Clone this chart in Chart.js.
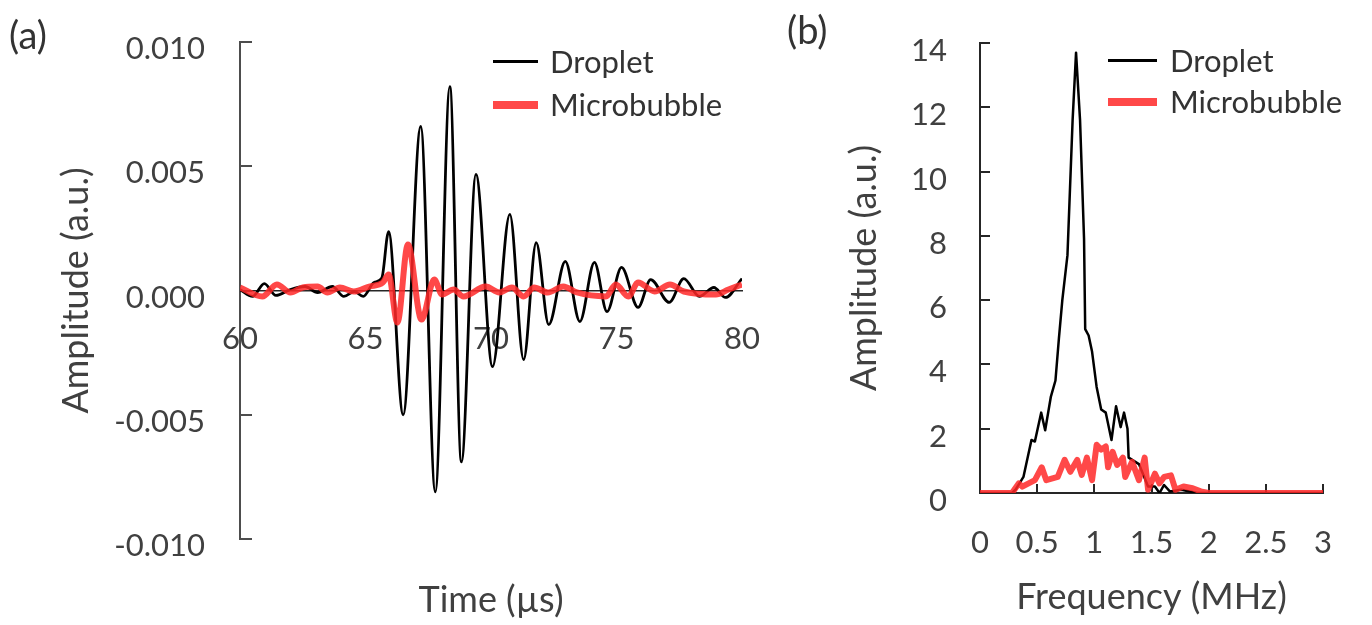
<!DOCTYPE html>
<html>
<head>
<meta charset="utf-8">
<script src="https://cdn.jsdelivr.net/npm/chart.js@4.4.1/dist/chart.umd.min.js"></script>
<style>
  body { margin: 0; background: #fff; }
  #page { position: relative; width: 1372px; height: 625px; overflow: hidden; font-family: Lato, sans-serif; color: #333; }
  canvas { position: absolute; top: 0; }
  .panel { position: absolute; font-size: 38px; line-height: 38px; }
  .legend { position: absolute; font-size: 31px; }
  .legend .row { display: flex; align-items: center; height: 31px; line-height: 31px; white-space: nowrap; }
</style>
</head>
<body>
<div id="page">
  <canvas id="timeChart" width="790" height="625" style="left:0"></canvas>
  <canvas id="freqChart" width="582" height="625" style="left:790px"></canvas>
  <div class="panel" style="left:9px;top:15px">(a)</div>
  <div class="panel" style="left:787px;top:10px">(b)</div>
  <div class="legend" id="legendA" style="left:493px;top:46px"></div>
  <div class="legend" id="legendB" style="left:1108px;top:45px"></div>
</div>
<script>
const seriesNames = ['Droplet', 'Microbubble'];

// (a) time signal, amplitude in a.u.
const dropletTime = [60.00, 60.50, 60.97, 61.43, 62.01, 62.59, 63.09, 63.68, 64.14, 64.56, 64.91, 65.34, 65.65, 65.92,
  66.50, 67.20, 67.78, 68.36, 68.82, 69.40, 70.06, 70.75, 71.30, 71.80, 72.30, 72.96, 73.54, 74.12, 74.62, 75.20,
  75.86, 76.36, 77.10, 77.68, 78.30, 78.88, 79.34, 80.00];
const dropletAmp = [0.00004, -0.00024, 0.00028, -0.00020, 0.00004, 0.00016, -0.00008, 0.00016, -0.00024, -0.00004, -0.00024, 0.00032, 0.0005, 0.00237,
  -0.0050, 0.0066, -0.0081, 0.0082, -0.0069, 0.00467, -0.00306, 0.00306, -0.00278, 0.00193, -0.00137, 0.00117, -0.00125, 0.00113, -0.00085, 0.00093,
  -0.00068, 0.00044, -0.00048, 0.00048, -0.00024, 0.00012, -0.00028, 0.00048];

const bubbleTime = [60.00, 60.89, 61.47, 62.01, 62.50, 63.09, 63.48, 63.98, 64.53, 65.15, 65.69, 65.92, 66.27, 66.69, 67.23,
  67.74, 68.05, 68.51, 68.90, 69.79, 70.33, 70.83, 71.30, 71.72, 72.26, 72.88, 73.42, 74.58, 74.97, 75.47, 75.86,
  76.52, 77.13, 77.68, 78.96, 79.46, 80.00];
const bubbleAmp = [0.00012, -0.00024, 0.00024, -0.00008, 0.00012, 0.00016, -0.00008, 0.00012, -0.00004, 0.00016, 0.00032, 0.00064, -0.00129, 0.00185, -0.00117,
  0.00044, -0.00016, 0.00004, -0.00024, 0.00016, -0.00008, 0.00012, -0.00024, 0.00012, -0.00008, 0.00016, -0.00008, -0.00024, 0.00024, -0.00024, 0.00032,
  -0.00004, 0.00024, -0.00004, -0.00016, 0.00004, 0.00024];

// (b) spectrum
const dropletFreq = [0, 0.28, 0.31, 0.38, 0.45, 0.48, 0.535, 0.57, 0.62, 0.66, 0.69, 0.72, 0.765, 0.81, 0.84, 0.875,
  0.91, 0.92, 0.95, 0.98, 1.02, 1.06, 1.10, 1.15, 1.19, 1.23, 1.26, 1.29, 1.30, 1.39, 1.47, 1.53, 1.57, 1.61, 1.66,
  1.76, 1.90, 3.00];
const dropletSpec = [0, 0, 0.1, 0.5, 1.65, 1.6, 2.5, 1.95, 3.0, 3.5, 4.8, 6.0, 7.4, 11.6, 13.7, 11.6,
  7.9, 5.1, 4.9, 4.4, 3.3, 2.6, 2.5, 1.65, 2.7, 2.05, 2.5, 2.0, 1.1, 0.9, 0.2, 0.2, 0, 0.25, 0.05,
  0.1, 0, 0];

const bubbleFreq = [0, 0.28, 0.34, 0.37, 0.48, 0.54, 0.58, 0.68, 0.74, 0.79, 0.85, 0.89, 0.935, 0.98, 1.02, 1.06,
  1.10, 1.12, 1.16, 1.20, 1.25, 1.27, 1.33, 1.39, 1.44, 1.47, 1.53, 1.57, 1.61, 1.67, 1.71, 1.78, 1.86, 1.93, 2.00, 3.00];
const bubbleSpec = [0, 0, 0.3, 0.2, 0.4, 0.8, 0.4, 0.5, 1.03, 0.66, 1.03, 0.56, 1.1, 0.4, 1.5, 1.35,
  1.45, 0.8, 1.28, 0.87, 1.1, 0.5, 0.97, 0.4, 1.1, 0.1, 0.6, 0.3, 0.5, 0.55, 0.1, 0.2, 0.15, 0.05, 0, 0];

// tick labels
const timeTicks = [60, 65, 70, 75, 80];
const ampTicks = [-0.010, -0.005, 0, 0.005, 0.010];
const freqTicks = [0, 0.5, 1, 1.5, 2, 2.5, 3];
const specTicks = [0, 2, 4, 6, 8, 10, 12, 14];

const black = '#000000';
const red = 'rgba(255, 40, 40, 0.85)';
const axisColor = '#4d4d4d';
const titleFont = {size: 36};

Chart.defaults.font.family = 'Lato';
Chart.defaults.font.size = 31;
Chart.defaults.color = '#404040';

const pts = (xs, ys) => xs.map((x, i) => ({x: x, y: ys[i]}));
const setTicks = list => scale => { scale.ticks = list.map(v => ({value: v})); };
// fixed axis width, and no extra room asked above/below the plot
const fixWidth = w => s => { s.width = w; s.paddingTop = 0; s.paddingBottom = 0; };

const timeChart = new Chart(document.getElementById('timeChart'), {
    type: 'line',
    data: {
        datasets: [
            {label: seriesNames[0], data: pts(dropletTime, dropletAmp), borderColor: black, borderWidth: 2.8,
             cubicInterpolationMode: 'monotone', pointRadius: 0, order: 1},
            {label: seriesNames[1], data: pts(bubbleTime, bubbleAmp), borderColor: red, borderWidth: 6,
             cubicInterpolationMode: 'monotone', pointRadius: 0, order: 0}
        ]
    },
    options: {
        responsive: false,
        animation: false,
        layout: {padding: {left: 0, top: 42, right: 33, bottom: 0}},
        plugins: {legend: {display: false}, tooltip: {enabled: false}},
        scales: {
            x: {
                type: 'linear', position: {y: 0}, min: 60, max: 80, z: 1,
                afterBuildTicks: setTicks(timeTicks),
                border: {color: '#262626', width: 1.5},
                grid: {display: false, drawTicks: false},
                ticks: {padding: 30, showLabelBackdrop: true, backdropColor: '#ffffff',
                        backdropPadding: {top: 0, bottom: 0, left: 2, right: 2}}
            },
            x2: {
                type: 'linear', position: 'bottom', min: 60, max: 80,
                afterFit: s => { s.height = 86; },
                border: {display: false},
                grid: {display: false, drawTicks: false},
                ticks: {display: false},
                title: {display: true, text: 'Time (µs)', font: titleFont, padding: {top: 0, bottom: 3}}
            },
            y: {
                min: -0.01, max: 0.01,
                afterBuildTicks: setTicks(ampTicks),
                afterFit: fixWidth(240),
                border: {color: axisColor, width: 2},
                grid: {drawOnChartArea: false, tickLength: -12, color: axisColor, lineWidth: 2},
                ticks: {padding: 47, labelOffset: 7,
                        callback: v => (Math.abs(v) < 1e-9 ? 0 : v).toFixed(3)},
                title: {display: true, text: 'Amplitude (a.u.)', font: titleFont, padding: {top: 55, bottom: 0}}
            }
        }
    }
});

const freqChart = new Chart(document.getElementById('freqChart'), {
    type: 'line',
    data: {
        datasets: [
            {label: seriesNames[0], data: pts(dropletFreq, dropletSpec), borderColor: black, borderWidth: 2.5,
             tension: 0, borderJoinStyle: 'round', pointRadius: 0, order: 1},
            {label: seriesNames[1], data: pts(bubbleFreq, bubbleSpec), borderColor: red, borderWidth: 6,
             tension: 0, borderJoinStyle: 'round', pointRadius: 0, order: 0}
        ]
    },
    options: {
        responsive: false,
        animation: false,
        layout: {padding: {left: 0, top: 43, right: 39, bottom: 0}},
        plugins: {legend: {display: false}, tooltip: {enabled: false}},
        scales: {
            x: {
                type: 'linear', position: 'bottom', min: 0, max: 3,
                afterBuildTicks: setTicks(freqTicks),
                afterFit: s => { s.height = 132; },
                border: {color: '#262626', width: 2},
                grid: {drawOnChartArea: false, tickLength: -9, color: '#262626', lineWidth: 2},
                ticks: {padding: 40, callback: v => String(v)},
                title: {display: true, text: 'Frequency (MHz)', font: titleFont, padding: {top: 0, bottom: 6}}
            },
            y: {
                min: 0, max: 14,
                afterBuildTicks: setTicks(specTicks),
                afterFit: fixWidth(190),
                border: {color: '#262626', width: 2},
                grid: {drawOnChartArea: false, tickLength: -10, color: '#262626', lineWidth: 2},
                ticks: {padding: 43, labelOffset: 8},
                title: {display: true, text: 'Amplitude (a.u.)', font: titleFont, padding: {top: 53, bottom: 0}}
            }
        }
    }
});

// legends built from the chart datasets
function buildLegend(el, chart, lineLen, gap, rowGap) {
    const thickness = [3, 8];
    chart.data.datasets.forEach((ds, i) => {
        const row = document.createElement('div');
        row.className = 'row';
        if (i > 0) row.style.marginTop = rowGap + 'px';
        const sw = document.createElement('span');
        sw.style.cssText = 'display:inline-block;width:' + lineLen + 'px;height:' + thickness[i] +
            'px;background:' + ds.borderColor + ';margin-right:' + gap + 'px';
        row.appendChild(sw);
        row.appendChild(document.createTextNode(ds.label));
        el.appendChild(row);
    });
}
buildLegend(document.getElementById('legendA'), timeChart, 45, 12, 12);
buildLegend(document.getElementById('legendB'), freqChart, 49, 13, 10);
</script>
</body>
</html>
